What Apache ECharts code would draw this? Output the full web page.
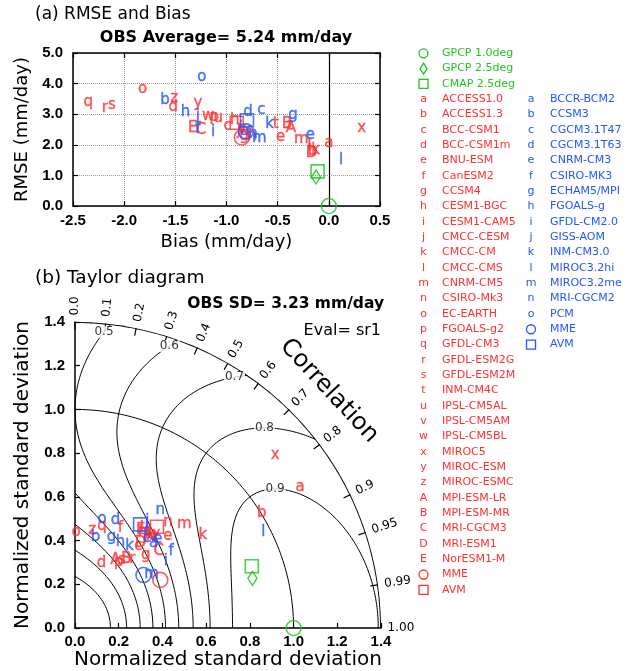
<!DOCTYPE html>
<html>
<head>
<meta charset="utf-8">
<script src="https://cdn.jsdelivr.net/npm/echarts@6/dist/echarts.min.js"></script>
<style>
html,body{margin:0;padding:0;background:#fff;}
#chart{width:632px;height:671px;}
</style>
</head>
<body>
<div id="chart"></div>
<script>
// ---------- model identifiers ----------
const cmip5Codes = ['a','b','c','d','e','f','g','h','i','j','k','l','m','n','o','p','q','r','s','t','u','v','w','x','y','z','A','B','C','D','E'];
const cmip5Names = ['ACCESS1.0','ACCESS1.3','BCC-CSM1','BCC-CSM1m','BNU-ESM','CanESM2','CCSM4','CESM1-BGC','CESM1-CAM5','CMCC-CESM','CMCC-CM','CMCC-CMS','CNRM-CM5','CSIRO-Mk3','EC-EARTH','FGOALS-g2','GFDL-CM3','GFDL-ESM2G','GFDL-ESM2M','INM-CM4C','IPSL-CM5AL','IPSL-CM5AM','IPSL-CM5BL','MIROC5','MIROC-ESM','MIROC-ESMC','MPI-ESM-LR','MPI-ESM-MR','MRI-CGCM3','MRI-ESM1','NorESM1-M'];
const cmip3Codes = ['a','b','c','d','e','f','g','h','i','j','k','l','m','n','o'];
const cmip3Names = ['BCCR-BCM2','CCSM3','CGCM3.1T47','CGCM3.1T63','CNRM-CM3','CSIRO-MK3','ECHAM5/MPI','FGOALS-g','GFDL-CM2.0','GISS-AOM','INM-CM3.0','MIROC3.2hi','MIROC3.2me','MRI-CGCM2','PCM'];
const ensembleNames = ['MME','AVM'];
const obsNames = ['GPCP 1.0deg','GPCP 2.5deg','CMAP 2.5deg'];

// ---------- (a) bias and RMSE (mm/day) ----------
const obsAverage = 5.24;
const cmip5Bias = [0.00,-0.16,-0.99,-1.52,-0.47,-0.78,-0.83,-0.92,-0.86,-0.88,-0.13,-0.19,-0.27,-0.75,-1.82,-1.12,-2.35,-2.19,-2.12,-0.52,-1.08,-0.85,-1.18,0.32,-1.28,-1.51,-0.37,-0.41,-1.25,-0.17,-1.33];
const cmip5Rmse = [2.06,1.78,2.60,3.24,2.26,2.38,2.30,2.80,2.55,2.45,1.82,1.97,2.17,2.28,3.81,2.91,3.38,3.20,3.29,2.67,2.86,2.50,2.93,2.56,3.36,3.52,2.53,2.67,2.47,1.73,2.53];
const cmip3Bias = [-0.82,-1.60,-0.66,-0.79,-0.18,-1.28,-0.35,-1.40,-1.13,-1.28,-0.58,0.12,-0.68,-0.74,-1.24];
const cmip3Rmse = [2.45,3.45,3.13,3.07,2.31,2.50,2.96,3.07,2.42,2.93,2.69,1.49,2.22,2.35,4.22];
const cmip5EnsBias = [-0.85,-0.90];
const cmip5EnsRmse = [2.24,2.72];
const cmip3EnsBias = [-0.81,-0.80];
const cmip3EnsRmse = [2.44,2.80];
const obsBias = [0.00,-0.125,-0.11];
const obsRmse = [0.00,0.95,1.13];

// ---------- (b) normalized standard deviation and correlation ----------
const obsSd = 3.23;
const cmip5Sd   = [1.216,1.004,0.474,0.320,0.599,0.501,0.465,0.538,0.548,0.528,0.723,0.548,0.689,0.643,0.438,0.361,0.484,0.410,0.377,0.553,0.554,0.549,0.544,1.210,0.567,0.455,0.361,0.393,0.519,0.492,0.541];
const cmip5Corr = [0.847,0.851,0.612,0.378,0.710,0.415,0.695,0.576,0.557,0.606,0.809,0.620,0.726,0.661,0.011,0.555,0.256,0.639,0.570,0.606,0.631,0.655,0.635,0.757,0.652,0.174,0.512,0.598,0.738,0.610,0.555];
const cmip3Sd   = [0.531,0.428,0.526,0.528,0.556,0.563,0.450,0.446,0.515,0.591,0.450,0.967,0.427,0.666,0.514];
const cmip3Corr = [0.678,0.220,0.627,0.351,0.681,0.781,0.371,0.466,0.806,0.559,0.556,0.891,0.819,0.586,0.241];
const cmip5EnsSd = [0.448,0.596];
const cmip5EnsCorr = [0.871,0.629];
const cmip3EnsSd = [0.396,0.560];
const cmip3EnsCorr = [0.791,0.532];
const obsSdNorm = [1.000,0.843,0.857];
const obsCorr = [1.000,0.963,0.944];

// diagram furniture
const corrTicks = [0.0,0.1,0.2,0.3,0.4,0.5,0.6,0.7,0.8,0.9,0.95,0.99];
const corrTickLabels = ['0.0','0.1','0.2','0.3','0.4','0.5','0.6','0.7','0.8','0.9','0.95','0.99'];
const skillLevels = [0.1,0.2,0.3,0.4,0.5,0.6,0.7,0.8,0.9];
const labelledLevels = [0.5,0.6,0.7,0.8,0.9];
const SD_MAX = 1.4;

// ---------- styling ----------
const RED = '#ff3030', BLUE = '#2256ff', GREEN = '#1fc41f';
const TXT = "'DejaVu Sans', sans-serif";
const TICK = "'Liberation Sans', Arial, sans-serif";

const toDeg = r => Math.acos(Math.max(-1, Math.min(1, r))) * 180 / Math.PI;

// skill score S = 2(1+R)/(s+1/s)^2 -> two roots of s for given S, R
function sdRoots(S, R) {
  const q = Math.sqrt(2 * (1 + R) / S);
  const d = Math.sqrt(Math.max(0, q * q - 4));
  return [(q - d) / 2, (q + d) / 2];
}
function contourBranches(S) {
  const thMax = S >= 0.5 ? toDeg(2 * S - 1) : 90;
  const N = 240;
  const lower = [];
  for (let k = 0; k <= N; k++) {
    const u = k / N, th = thMax * (1 - u * u);
    lower.push([sdRoots(S, Math.cos(th * Math.PI / 180))[0], th]);
  }
  const upper = [];
  if (S >= 0.5) {
    const Rb = S * Math.pow(SD_MAX + 1 / SD_MAX, 2) / 2 - 1;
    const thLow = Rb >= 1 ? 0 : toDeg(Rb);
    for (let k = 0; k <= N; k++) {
      const u = k / N, th = thMax - (thMax - thLow) * u * u;
      upper.push([Math.min(SD_MAX, sdRoots(S, Math.cos(th * Math.PI / 180))[1]), th]);
    }
  }
  return [lower, upper];
}
function contourLabelPoint(S, upper) {
  if (S <= 0.7) {
    const s = 1.36;
    return [s, toDeg(S * Math.pow(s + 1 / s, 2) / 2 - 1)];
  }
  let best = upper[0], by = -1;
  upper.forEach(p => { const y = p[0] * Math.sin(p[1] * Math.PI / 180); if (y > by) { by = y; best = p; } });
  return best;
}

const series = [];
const lineBase = { type: 'line', coordinateSystem: 'polar', polarIndex: 0, showSymbol: false, symbol: 'none', silent: true, animation: false, z: 1 };

// skill-score contours
const contourLabels = [];
skillLevels.forEach(S => {
  const [lower, upper] = contourBranches(S);
  series.push(Object.assign({}, lineBase, { data: lower, lineStyle: { color: '#000', width: 1 } }));
  if (upper.length) series.push(Object.assign({}, lineBase, { data: upper, lineStyle: { color: '#000', width: 1 } }));
  if (labelledLevels.includes(S)) {
    const p = contourLabelPoint(S, upper);
    contourLabels.push([p[0], p[1], S.toFixed(1)]);
  }
});
// reference SD arc and outer SD arc
const arcAngles = [];
for (let a = 0; a <= 90; a += 0.5) arcAngles.push(a);
series.push(Object.assign({}, lineBase, { data: arcAngles.map(a => [1.0, a]), lineStyle: { color: '#000', width: 1 } }));
series.push(Object.assign({}, lineBase, { data: arcAngles.map(a => [SD_MAX, a]), lineStyle: { color: '#000', width: 2 }, z: 2 }));

// contour value labels
series.push({
  type: 'scatter', coordinateSystem: 'polar', polarIndex: 0, silent: true, animation: false, z: 2, clip: false,
  symbolSize: 0, data: contourLabels,
  label: { show: true, position: 'inside', formatter: p => p.value[2], color: '#000', fontSize: 12, fontFamily: TXT, backgroundColor: '#fff', padding: [0, 1] }
});

// correlation ticks on the outer arc
series.push({
  type: 'custom', coordinateSystem: 'polar', polarIndex: 0, silent: true, animation: false, z: 2, clip: false,
  data: corrTicks.map(r => [SD_MAX, toDeg(r)]),
  renderItem: (params, api) => {
    const th = api.value(1);
    const p0 = api.coord([SD_MAX, th]);
    const p1 = api.coord([SD_MAX - 0.035, th]);
    return { type: 'line', shape: { x1: p0[0], y1: p0[1], x2: p1[0], y2: p1[1] }, style: { stroke: '#000', lineWidth: 1.2 } };
  }
});
// correlation tick labels and the axis title, laid out in the polar frame
const corrLabelData = corrTicks.map((r, i) => ({ value: [1.43, toDeg(r), corrTickLabels[i]], label: { rotate: toDeg(r) } }));
corrLabelData.push({ value: [1.43, 0, '1.00'], label: { rotate: 0 } });
series.push({
  type: 'custom', coordinateSystem: 'polar', polarIndex: 0, silent: true, animation: false, z: 2, clip: false,
  data: corrLabelData.map(d => [d.value[0], d.value[1], d.value[2], d.label.rotate]),
  renderItem: (params, api) => {
    const p = api.coord([api.value(0), api.value(1)]);
    return { type: 'text', x: p[0], y: p[1], rotation: api.value(3) * Math.PI / 180,
      style: { text: corrLabelData[params.dataIndex].value[2], fill: '#000', font: '12px ' + TXT, align: 'left', verticalAlign: 'middle' } };
  }
});
const corrTitle = [[1.59, 43, 'Correlation', -47]];
series.push({
  type: 'custom', coordinateSystem: 'polar', polarIndex: 0, silent: true, animation: false, z: 2, clip: false,
  data: corrTitle,
  renderItem: (params, api) => {
    const p = api.coord([api.value(0), api.value(1)]);
    return { type: 'text', x: p[0], y: p[1], rotation: corrTitle[params.dataIndex][3] * Math.PI / 180,
      style: { text: corrTitle[params.dataIndex][2], fill: '#000', font: '24px ' + TXT, align: 'center', verticalAlign: 'middle' } };
  }
});

// letter markers
function letterSeries(data, color, polar) {
  const s = {
    type: 'scatter', silent: true, animation: false, z: 5, clip: false,
    symbolSize: 1, itemStyle: { color: 'rgba(0,0,0,0)' }, data: data,
    label: { show: true, position: 'inside', formatter: p => p.value[2], color: color, fontSize: 15, fontFamily: TXT,
      textBorderColor: color, textBorderWidth: 0.4 }
  };
  if (polar) { s.coordinateSystem = 'polar'; s.polarIndex = 0; } else { s.xAxisIndex = 0; s.yAxisIndex = 0; }
  return s;
}
function shapeSeries(data, color, polar) {
  const s = {
    type: 'scatter', silent: true, animation: false, z: 6, data: data, clip: false,
    itemStyle: { color: 'rgba(0,0,0,0)', borderColor: color, borderWidth: 1.6 }
  };
  if (polar) { s.coordinateSystem = 'polar'; s.polarIndex = 0; } else { s.xAxisIndex = 0; s.yAxisIndex = 0; }
  return s;
}
const ensSymbols = [{ symbol: 'circle', size: 15 }, { symbol: 'rect', size: 13 }];
const obsSymbols = [{ symbol: 'circle', size: 15 }, { symbol: 'diamond', size: [9, 14] }, { symbol: 'rect', size: 13 }];

// (a)
series.push(letterSeries(cmip5Codes.map((c, i) => [cmip5Bias[i], cmip5Rmse[i], c]), RED, false));
series.push(letterSeries(cmip3Codes.map((c, i) => [cmip3Bias[i], cmip3Rmse[i], c]), BLUE, false));
series.push(shapeSeries(ensSymbols.map((e, i) => ({ value: [cmip5EnsBias[i], cmip5EnsRmse[i]], symbol: e.symbol, symbolSize: e.size })), RED, false));
series.push(shapeSeries(ensSymbols.map((e, i) => ({ value: [cmip3EnsBias[i], cmip3EnsRmse[i]], symbol: e.symbol, symbolSize: e.size })), BLUE, false));
series.push(shapeSeries(obsSymbols.map((e, i) => ({ value: [obsBias[i], obsRmse[i]], symbol: e.symbol, symbolSize: e.size })), GREEN, false));
// zero-bias line
series[series.length - 1].markLine = {
  silent: true, symbol: 'none', animation: false, label: { show: false },
  lineStyle: { color: '#000', width: 1.2, type: 'solid' }, data: [{ xAxis: 0 }]
};

// (b)
series.push(letterSeries(cmip5Codes.map((c, i) => [cmip5Sd[i], toDeg(cmip5Corr[i]), c]), RED, true));
series.push(letterSeries(cmip3Codes.map((c, i) => [cmip3Sd[i], toDeg(cmip3Corr[i]), c]), BLUE, true));
series.push(shapeSeries(ensSymbols.map((e, i) => ({ value: [cmip5EnsSd[i], toDeg(cmip5EnsCorr[i])], symbol: e.symbol, symbolSize: e.size })), RED, true));
series.push(shapeSeries(ensSymbols.map((e, i) => ({ value: [cmip3EnsSd[i], toDeg(cmip3EnsCorr[i])], symbol: e.symbol, symbolSize: e.size })), BLUE, true));
series.push(shapeSeries(obsSymbols.map((e, i) => ({ value: [obsSdNorm[i], toDeg(obsCorr[i])], symbol: e.symbol, symbolSize: e.size })), GREEN, true));

// ---------- legend (drawn as graphic elements) ----------
const graphics = [];
const ROW0 = 53.3, ROWH = 15.33;
const C1SYM = 423.5, C1TXT = 442, C2SYM = 531, C2TXT = 550;
const rowY = i => ROW0 + i * ROWH;
function legText(x, y, text, color) {
  graphics.push({ type: 'text', x: x, y: y, silent: true, style: { text: text, fill: color, font: '11px ' + TXT, align: 'left', verticalAlign: 'middle' } });
}
function legCode(x, y, text, color) {
  graphics.push({ type: 'text', x: x, y: y, silent: true, style: { text: text, fill: color, font: '11px ' + TXT, align: 'center', verticalAlign: 'middle' } });
}
function legShape(kind, x, y, color) {
  const st = { fill: 'none', stroke: color, lineWidth: 1.3 };
  if (kind === 'circle') graphics.push({ type: 'circle', silent: true, shape: { cx: x, cy: y, r: 4.5 }, style: st });
  else if (kind === 'rect') graphics.push({ type: 'rect', silent: true, shape: { x: x - 4.5, y: y - 4.5, width: 9, height: 9 }, style: st });
  else graphics.push({ type: 'polygon', silent: true, shape: { points: [[x, y - 5.5], [x + 3.5, y], [x, y + 5.5], [x - 3.5, y]] }, style: st });
}
['circle', 'diamond', 'rect'].forEach((k, i) => { legShape(k, C1SYM, rowY(i), GREEN); legText(C1TXT, rowY(i), obsNames[i], GREEN); });
cmip5Codes.forEach((c, i) => { legCode(C1SYM, rowY(3 + i), c, RED); legText(C1TXT, rowY(3 + i), cmip5Names[i], RED); });
['circle', 'rect'].forEach((k, i) => { legShape(k, C1SYM, rowY(3 + cmip5Codes.length + i), RED); legText(C1TXT, rowY(3 + cmip5Codes.length + i), ensembleNames[i], RED); });
cmip3Codes.forEach((c, i) => { legCode(C2SYM, rowY(3 + i), c, BLUE); legText(C2TXT, rowY(3 + i), cmip3Names[i], BLUE); });
['circle', 'rect'].forEach((k, i) => { legShape(k, C2SYM, rowY(3 + cmip3Codes.length + i), BLUE); legText(C2TXT, rowY(3 + cmip3Codes.length + i), ensembleNames[i], BLUE); });

// titles and annotations
function txt(x, y, text, font, align) {
  graphics.push({ type: 'text', x: x, y: y, silent: true, style: { text: text, fill: '#000', font: font, align: align || 'left', verticalAlign: 'middle' } });
}
txt(35, 15, '(a) RMSE and Bias', '17px ' + TXT);
txt(226, 38, 'OBS Average= ' + obsAverage.toFixed(2) + ' mm/day', 'bold 16px ' + TXT, 'center');
txt(35, 278, '(b) Taylor diagram', '18.5px ' + TXT);
txt(384, 304, 'OBS SD= ' + obsSd.toFixed(2) + ' mm/day', 'bold 15.5px ' + TXT, 'right');
txt(381, 331, 'Eval= sr1', '16px ' + TXT, 'right');

// ---------- axes ----------
const tickLabel = { color: '#000', fontSize: 15, fontWeight: 'bold', fontFamily: TICK };
const axisLine = { show: true, onZero: false, lineStyle: { color: '#000', width: 1.5 } };
const tickIn = { show: true, inside: true, length: 5, lineStyle: { color: '#000', width: 1.2 } };
const nameStyleA = { color: '#000', fontSize: 18, fontFamily: TXT };
const nameStyleB = { color: '#000', fontSize: 20, fontFamily: TXT };
const fmt1 = v => v.toFixed(1);

const option = {
  animation: false,
  backgroundColor: '#fff',
  grid: [
    { left: 73, top: 53, width: 307, height: 153 },
    { left: 75, top: 322, width: 306, height: 306 }
  ],
  polar: [{ center: [75, 628], radius: 306 }],
  radiusAxis: [{ polarIndex: 0, type: 'value', min: 0, max: SD_MAX, show: false, axisLine: { show: false }, axisLabel: { show: false }, axisTick: { show: false }, splitLine: { show: false } }],
  angleAxis: [{ polarIndex: 0, type: 'value', min: 0, max: 360, startAngle: 0, clockwise: false, show: false, axisLine: { show: false }, axisLabel: { show: false }, axisTick: { show: false }, splitLine: { show: false } }],
  xAxis: [
    { gridIndex: 0, type: 'value', min: -2.5, max: 0.5, interval: 0.5, position: 'bottom',
      axisLine: axisLine, axisTick: tickIn, axisLabel: Object.assign({ formatter: fmt1, margin: 7 }, tickLabel),
      splitLine: { show: true, lineStyle: { color: '#9a9a9a', type: 'dotted', width: 1 } },
      name: 'Bias (mm/day)', nameLocation: 'middle', nameGap: 27, nameTextStyle: nameStyleA },
    { gridIndex: 0, type: 'value', min: -2.5, max: 0.5, interval: 0.5, position: 'top',
      axisLine: axisLine, axisTick: tickIn, axisLabel: { show: false }, splitLine: { show: false } },
    { gridIndex: 1, type: 'value', min: 0, max: SD_MAX, interval: 0.2, position: 'bottom',
      axisLine: axisLine, axisTick: tickIn, axisLabel: Object.assign({ formatter: fmt1, margin: 6 }, tickLabel),
      splitLine: { show: false },
      name: 'Normalized standard deviation', nameLocation: 'middle', nameGap: 22, nameTextStyle: nameStyleB }
  ],
  yAxis: [
    { gridIndex: 0, type: 'value', min: 0, max: 5, interval: 1, position: 'left',
      axisLine: axisLine, axisTick: tickIn, axisLabel: Object.assign({ formatter: fmt1, margin: 10 }, tickLabel),
      splitLine: { show: true, lineStyle: { color: '#9a9a9a', type: 'dotted', width: 1 } },
      name: 'RMSE (mm/day)', nameLocation: 'middle', nameGap: 42, nameTextStyle: nameStyleA },
    { gridIndex: 0, type: 'value', min: 0, max: 5, interval: 1, position: 'right',
      axisLine: axisLine, axisTick: tickIn, axisLabel: { show: false }, splitLine: { show: false } },
    { gridIndex: 1, type: 'value', min: 0, max: SD_MAX, interval: 0.2, position: 'left',
      axisLine: axisLine, axisTick: tickIn, axisLabel: Object.assign({ formatter: fmt1, margin: 10 }, tickLabel),
      splitLine: { show: false },
      name: 'Normalized standard deviation', nameLocation: 'middle', nameGap: 42, nameTextStyle: nameStyleB }
  ],
  graphic: graphics,
  series: series
};

const chart = echarts.init(document.getElementById('chart'), null, { renderer: 'canvas' });
chart.setOption(option);
</script>
</body>
</html>
